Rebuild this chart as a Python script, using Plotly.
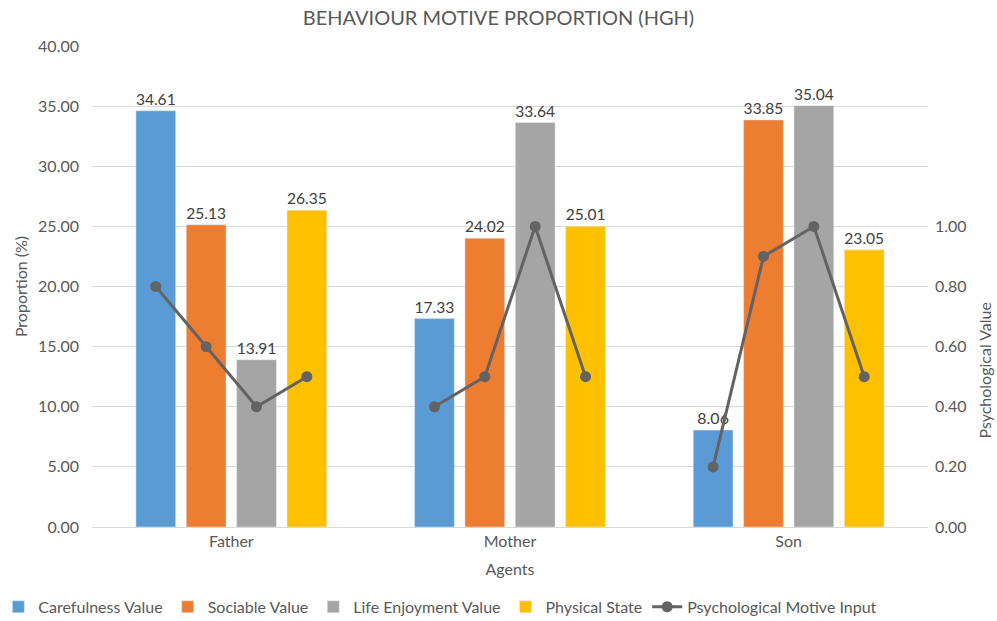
import plotly.graph_objects as go

# Data
agents = ["Father", "Mother", "Son"]
series_names = ["Carefulness Value", "Sociable Value", "Life Enjoyment Value", "Physical State"]
carefulness = [34.61, 17.33, 8.06]
sociable = [25.13, 24.02, 33.85]
life_enjoyment = [13.91, 33.64, 35.04]
physical_state = [26.35, 25.01, 23.05]
psych_father = [0.8, 0.6, 0.4, 0.5]
psych_mother = [0.4, 0.5, 1.0, 0.5]
psych_son = [0.2, 0.9, 1.0, 0.5]

colors = ["#5B9BD5", "#ED7D31", "#A5A5A5", "#FFC000"]
line_color = "#636363"
text_color = "#595959"
font_family = "Lato, 'Noto Sans', sans-serif"
fs = 16

bargap = 0.277
bargroupgap = 0.21
n_series = 4
slot = (1 - bargap) / n_series

fig = go.Figure()
xs = list(range(len(agents)))
for name, vals, col in zip(series_names, [carefulness, sociable, life_enjoyment, physical_state], colors):
    fig.add_trace(go.Bar(
        x=xs, y=vals, name=name, marker_color=col,
        text=[f"{v:.2f}" for v in vals], textposition="outside",
        textfont=dict(size=fs, color="#404040", family=font_family),
        cliponaxis=False,
    ))

# line points sit at the centre of each bar, broken between agents
lx, ly = [], []
for i, vals in enumerate([psych_father, psych_mother, psych_son]):
    for k, v in enumerate(vals):
        lx.append(i + (k - (n_series - 1) / 2) * slot)
        ly.append(v)
    lx.append(None)
    ly.append(None)

fig.add_trace(go.Scatter(
    x=lx, y=ly, name="Psychological Motive Input", yaxis="y2",
    mode="lines+markers", connectgaps=False,
    line=dict(color=line_color, width=3),
    marker=dict(color=line_color, size=11),
))

fig.update_layout(
    width=997, height=621,
    margin=dict(l=92, r=69, t=46, b=94, autoexpand=False),
    paper_bgcolor="white", plot_bgcolor="white",
    font=dict(family=font_family, color=text_color, size=fs),
    title=dict(text="BEHAVIOUR MOTIVE PROPORTION (HGH)", x=0.5, xanchor="center",
               y=0.971, yanchor="middle", font=dict(size=20, color=text_color)),
    barmode="group", bargap=bargap, bargroupgap=bargroupgap,
    showlegend=True,
    legend=dict(orientation="h", x=-0.112, xanchor="left", y=-0.166, yanchor="middle",
                font=dict(size=16, color=text_color), itemwidth=30,
                traceorder="normal"),
    xaxis=dict(range=[-0.5, 2.5], tickvals=xs, ticktext=agents, showgrid=False,
               zeroline=False, showline=True, linecolor="#d9d9d9", ticks="",
               tickfont=dict(size=fs, color=text_color),
               title=dict(text="Agents", font=dict(size=fs, color=text_color), standoff=14)),
    yaxis=dict(range=[0, 40], dtick=5, tickformat=".2f", showgrid=True,
               gridcolor="#d9d9d9", gridwidth=1, zeroline=False, ticks="",
               ticklabelstandoff=12,
               tickfont=dict(size=fs, color=text_color),
               title=dict(text="Proportion (%)", font=dict(size=fs, color=text_color), standoff=6)),
    yaxis2=dict(range=[0, 1.6], overlaying="y", side="right", showgrid=False,
                zeroline=False, tickvals=[0, 0.2, 0.4, 0.6, 0.8, 1.0], tickformat=".2f",
                ticks="", ticklabelstandoff=6,
                tickfont=dict(size=fs, color=text_color)),
    annotations=[dict(text="Psychological Value", xref="paper", yref="paper",
                      x=1.068, y=0.325, xanchor="center", yanchor="middle",
                      textangle=-90, showarrow=False,
                      font=dict(size=fs, color=text_color))],
)

fig.write_html("out.html")
